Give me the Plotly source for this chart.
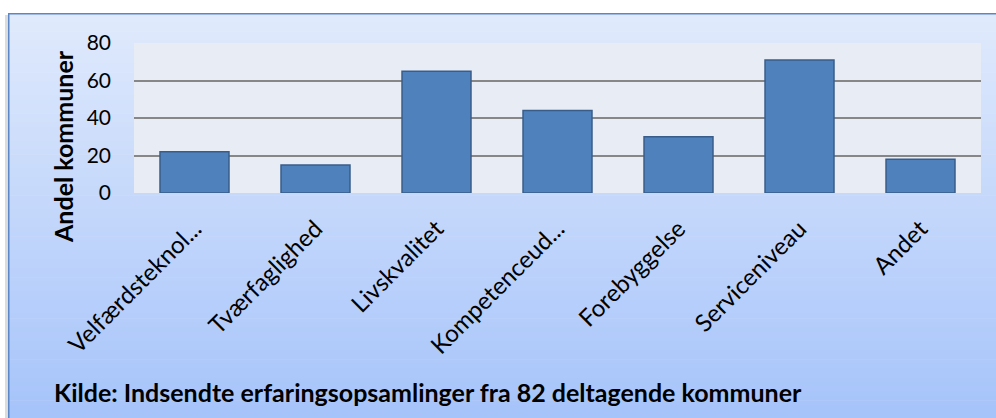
import plotly.graph_objects as go

categories = ["Velfærdsteknol...", "Tværfaglighed", "Livskvalitet", "Kompetenceud...",
              "Forebyggelse", "Serviceniveau", "Andet"]
values = [22, 15, 65, 44, 30, 71, 18]
y_ticks = [0, 20, 40, 60, 80]
y_title = "Andel kommuner"
source_text = "Kilde: Indsendte erfaringsopsamlinger fra 82 deltagende kommuner"

W, H = 996, 418
PL, PR, PT, PB = 134, 981, 43, 193  # plot area in px

def px_x(x):
    return (x - PL) / (PR - PL)

def px_y(y):
    return (PB - y) / (PB - PT)

FONT = "Lato, 'Open Sans', sans-serif"

shapes = []
# shadow left of frame
shapes.append(dict(type="rect", xref="paper", yref="paper", layer="below",
                   x0=px_x(5), x1=px_x(9), y0=px_y(H + 5), y1=px_y(15),
                   fillcolor="#dcdcdc", line=dict(width=0)))
top_c = (224, 234, 252)
bot_c = (165, 195, 250)
y_start, y_end = 13, H + 5
n = 90
for i in range(n):
    t = i / (n - 1)
    c = tuple(round(top_c[k] + (bot_c[k] - top_c[k]) * t) for k in range(3))
    y0 = y_start + (y_end - y_start) * i / n
    y1 = y_start + (y_end - y_start) * (i + 1) / n + 0.6
    shapes.append(dict(type="rect", xref="paper", yref="paper", layer="below",
                       x0=px_x(8), x1=px_x(W + 5), y0=px_y(y1), y1=px_y(y0),
                       fillcolor="rgb(%d,%d,%d)" % c, line=dict(width=0)))
# frame border
shapes.append(dict(type="rect", xref="paper", yref="paper", layer="below",
                   x0=px_x(8.75), x1=px_x(W + 5), y0=px_y(H + 5), y1=px_y(13.75),
                   fillcolor="rgba(0,0,0,0)", line=dict(color="#5B86C8", width=1.5)))
# plot background
shapes.append(dict(type="rect", xref="paper", yref="paper", layer="below",
                   x0=0, x1=1, y0=0, y1=1,
                   fillcolor="#E8ECF4", line=dict(width=0)))

fig = go.Figure(go.Bar(
    x=categories, y=values,
    marker=dict(color="#4F81BD", line=dict(color="#385D8A", width=1.5)),
))

fig.update_layout(
    width=W, height=H,
    margin=dict(l=PL, r=W - PR, t=PT, b=H - PB, autoexpand=False),
    paper_bgcolor="white",
    plot_bgcolor="rgba(0,0,0,0)",
    bargap=0.43,
    showlegend=False,
    font=dict(family=FONT, size=22, color="black"),
    shapes=shapes,
    xaxis=dict(tickangle=-45, showgrid=False, zeroline=False, showline=False,
               ticks="", tickfont=dict(size=24), ticklabelstandoff=16,
               automargin=False),
    yaxis=dict(range=[0, 80], tickvals=y_ticks, showgrid=True, gridcolor="#878787",
               gridwidth=2, zeroline=False, showline=False, ticks="",
               ticklabelstandoff=22, tickfont=dict(size=21), automargin=False),
    annotations=[
        dict(text="<b>%s</b>" % y_title, textangle=-90, xref="paper", yref="paper",
             x=px_x(63), y=px_y(147), xanchor="center", yanchor="middle",
             showarrow=False, font=dict(size=25, family=FONT)),
        dict(text="<b>%s</b>" % source_text, xref="paper", yref="paper",
             x=px_x(52), y=px_y(392), xanchor="left", yanchor="middle",
             showarrow=False, font=dict(size=25, family=FONT)),
    ],
)

fig.write_html(
    "out.html",
    config={"displayModeBar": False},
    post_script="document.body.style.margin='0';document.body.style.overflow='hidden';",
)
